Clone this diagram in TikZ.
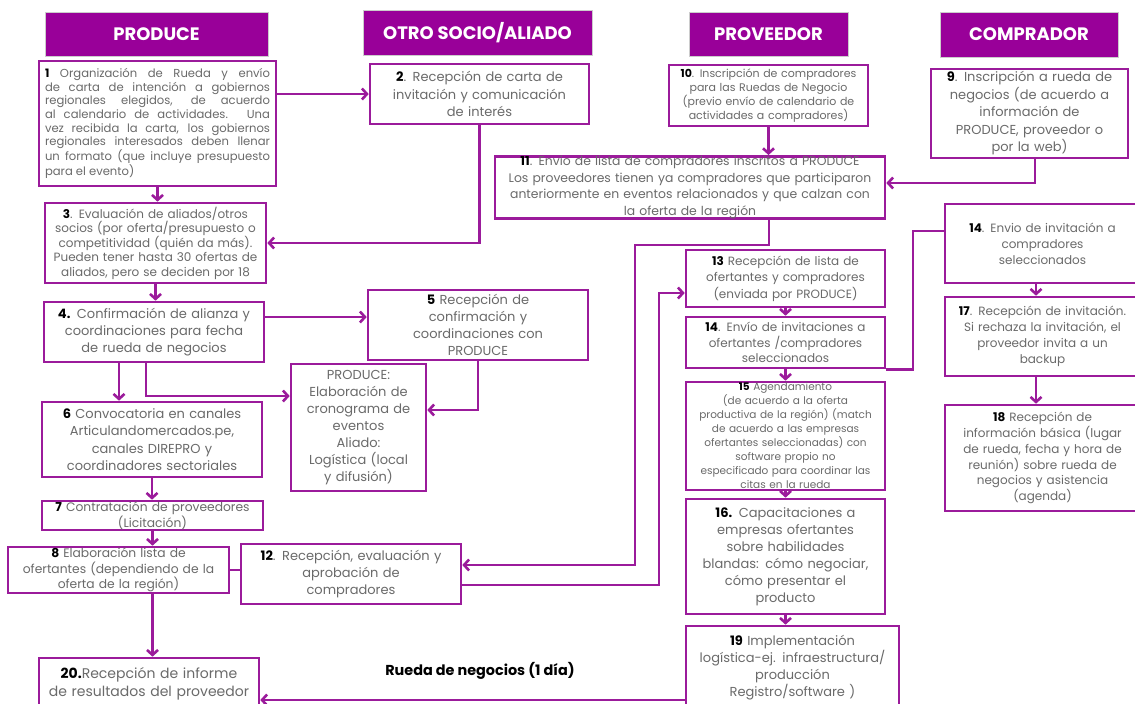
\documentclass[tikz,border=0pt]{standalone}
\usepackage{fontspec}
\setmainfont{Poppins}
\usetikzlibrary{arrows.meta}
\definecolor{lila}{HTML}{9B1B9B}
\definecolor{lilafondo}{HTML}{990099}
\definecolor{texto}{HTML}{6A6A6A}
\newcommand{\nro}[1]{{\color{black}\bfseries #1}}
\newcommand{\tam}[2]{\fontsize{#1}{#2}\selectfont}
\hyphenpenalty=10000
\exhyphenpenalty=10000

\begin{document}
\begin{tikzpicture}[x=1pt, y=-1pt,
   caja/.style={draw=lila, line width=2.6pt, fill=white, inner sep=0pt, align=center, text=texto},
   cabeza/.style={fill=lilafondo, draw=black!20, line width=0.6pt, text=white, inner sep=0pt,
      font=\bfseries\tam{18}{20}},
   flecha/.style={draw=lila, line width=2.6pt, -{Straight Barb[length=5pt,width=11pt]}},
   linea/.style={draw=lila, line width=2.6pt}]
    \useasboundingbox (0,0) rectangle (1135,704);
    \path (156.5,34) node[cabeza, minimum width=223pt, minimum height=44pt] (hprod) {PRODUCE};
    \path (477.5,32.5) node[cabeza, minimum width=229pt, minimum height=45pt] (hotro) {OTRO SOCIO/ALIADO};
    \path (768.5,34) node[cabeza, minimum width=159pt, minimum height=44pt] (hprov) {PROVEEDOR};
    \path (1029,34.5) node[cabeza, minimum width=178pt, minimum height=45pt] (hcomp) {COMPRADOR};
    \path (157.5,123.5) node[caja, minimum width=237pt, minimum height=125pt, inner xsep=6pt,
       text width=225pt, align=justify, font=\tam{11.6}{13.6}] (b1)
       {\nro{1} Organización de Rueda y envío de carta de intención a gobiernos regionales elegidos,
        de acuerdo al calendario de actividades. Una vez recibida la carta, los gobiernos regionales
        interesados deben llenar un formato (que incluye presupuesto para el evento)};
    \path (479.5,94) node[caja, minimum width=219pt, text width=219pt, minimum height=60pt,
       font=\tam{13}{17.5}] (b2)
       {\nro{2}. Recepción de carta de\\invitación y comunicación\\de interés};
    \path (768.5,95.5) node[caja, minimum width=199pt, text width=199pt, minimum height=61pt,
       font=\tam{11}{14}] (b10)
       {\nro{10}. Inscripción de compradores\\para las Ruedas de Negocio\\(previo envío de calendario de\\actividades a compradores)};
    \path (1029.5,113.5) node[caja, minimum width=197pt, text width=197pt, minimum height=89pt,
       font=\tam{13}{17.5}] (b9)
       {\nro{9}. Inscripción a rueda de\\negocios (de acuerdo a\\información de\\PRODUCE, proveedor o\\por la web)};
    \path (690,187.5) node[caja, minimum width=390pt, text width=390pt, minimum height=61pt,
       font=\tam{12.4}{16.5}] (b11)
       {\nro{11}. Envio de lista de compradores inscritos a PRODUCE\\Los proveedores tienen ya compradores que participaron\\anteriormente en eventos relacionados y que calzan con\\la oferta de la región};
    \path (155.5,243) node[caja, minimum width=221pt, text width=221pt, minimum height=80pt,
       font=\tam{12}{14.5}] (b3)
       {\nro{3}. Evaluación de aliados/otros\\socios (por oferta/presupuesto o\\competitividad (quién da más).\\Pueden tener hasta 30 ofertas de\\aliados, pero se deciden por 18};
    \path (1042.5,243.5) node[caja, minimum width=195pt, text width=195pt, minimum height=79pt,
       font=\tam{12}{16}] (b14c)
       {\nro{14}. Envio de invitación a\\compradores\\seleccionados};
    \path (785.5,278.5) node[caja, minimum width=199pt, text width=199pt, minimum height=57pt,
       font=\tam{12}{16.5}] (b13)
       {\nro{13} Recepción de lista de\\ofertantes y compradores\\(enviada por PRODUCE)};
    \path (154,332) node[caja, minimum width=220pt, text width=220pt, minimum height=60pt,
       font=\tam{13}{17}] (b4)
       {\nro{4.} Confirmación de alianza y\\coordinaciones para fecha\\de rueda de negocios};
    \path (478,325) node[caja, minimum width=220pt, text width=220pt, minimum height=70pt,
       font=\tam{13}{17}] (b5)
       {\nro{5} Recepción de\\confirmación y\\coordinaciones con\\PRODUCE};
    \path (785.5,342.5) node[caja, minimum width=199pt, text width=199pt, minimum height=51pt,
       font=\tam{12}{15.5}] (b14b)
       {\nro{14}. Envío de invitaciones a\\ofertantes /compradores\\seleccionados};
    \path (1042.5,336.5) node[caja, minimum width=195pt, text width=195pt, minimum height=79pt,
       font=\tam{12}{16}] (b17)
       {\nro{17}. Recepción de invitación.\\Si rechaza la invitación, el\\proveedor invita a un\\backup};
    \path (358.5,427.5) node[caja, minimum width=135pt, text width=135pt, minimum height=127pt,
       font=\tam{13}{17}] (cron)
       {PRODUCE:\\Elaboración de\\cronograma de\\eventos\\Aliado:\\Logística (local\\y difusión)};
    \path (152,439.5) node[caja, minimum width=220pt, text width=220pt, minimum height=75pt,
       font=\tam{13}{17.5}] (b6)
       {\nro{6} Convocatoria en canales\\Articulandomercados.pe,\\canales DIREPRO y\\coordinadores sectoriales};
    \path (785.5,436) node[caja, minimum width=199pt, text width=199pt, minimum height=108pt,
       font=\tam{10.5}{14}] (b15)
       {\nro{15} Agendamiento\\(de acuerdo a la oferta\\productiva de la región) (match\\de acuerdo a las empresas\\ofertantes seleccionadas) con\\software propio no\\especificado para coordinar las\\citas en la rueda};
    \path (1042.5,458) node[caja, minimum width=195pt, text width=195pt, minimum height=106pt,
       font=\tam{12}{15.8}] (b18)
       {\nro{18} Recepción de\\información básica (lugar\\de rueda, fecha y hora de\\reunión) sobre rueda de\\negocios y asistencia\\(agenda)};
    \path (152.5,515.5) node[caja, minimum width=221pt, text width=221pt, minimum height=29pt,
       font=\tam{12.3}{13.5}] (b7)
       {\nro{7} Contratación de proveedores\\(Licitación)};
    \path (785.5,556.5) node[caja, minimum width=199pt, text width=199pt, minimum height=115pt,
       font=\tam{13}{17}] (b16)
       {\nro{16.} Capacitaciones a\\empresas ofertantes\\sobre habilidades\\blandas: cómo negociar,\\cómo presentar el\\producto};
    \path (118.5,570) node[caja, minimum width=221pt, text width=221pt, minimum height=46pt,
       font=\tam{12.3}{15.3}] (b8)
       {\nro{8} Elaboración lista de\\ofertantes (dependiendo de la\\oferta de la región)};
    \path (351,574) node[caja, minimum width=220pt, text width=220pt, minimum height=60pt,
       font=\tam{13}{17}] (b12)
       {\nro{12}. Recepción, evaluación y\\aprobación de\\compradores};
    \path (792.5,668) node[caja, minimum width=213pt, text width=213pt, minimum height=84pt,
       font=\tam{13}{17}] (b19)
       {\nro{19} Implementación\\logística-ej. infraestructura/\\producción\\Registro/software )};
    \path (149,684) node[caja, minimum width=220pt, text width=220pt, minimum height=52pt,
       font=\tam{14}{18}] (b20)
       {\nro{20.}Recepción de informe\\de resultados del proveedor};
    \path (480,671) node[font=\bfseries\tam{14.4}{16}] (rueda) {Rueda de negocios (1 día)};
    \draw[flecha] (b1.east |- b2.west) -- (b2.west);
    \draw[flecha] (b2.south) |- (b3.east);
    \draw[flecha] (b1.south) -- (b1.south |- b3.north);
    \draw[flecha] (b3.south) -- (b3.south |- b4.north);
    \coordinate (c45) at (264,317);
    \draw[flecha] (c45 -| b4.east) -- (c45 -| b5.west);
    \coordinate (c46) at (119,0);
    \draw[flecha] (c46 |- b4.south) -- (c46 |- b6.north);
    \coordinate (c4cron) at (146,396);
    \draw[flecha] (c4cron |- b4.south) |- (c4cron -| cron.west);
    \coordinate (c5cron) at (0,410);
    \draw[flecha] (b5.south) |- (c5cron -| cron.east);
    \draw[flecha] (b6.south) -- (b6.south |- b7.north);
    \draw[flecha] (b7.south) -- (b7.south |- b8.north);
    \draw[flecha] (b7.south |- b8.south) -- (b7.south |- b20.north);
    \draw[linea] (b8.east) -- (b8.east -| b12.west);
    \coordinate (c11a) at (769,245);
    \coordinate (c11b) at (635,565);
    \draw[flecha] (c11a |- b11.south) -- (c11a) -| (c11b) -- (c11b -| b12.east);
    \coordinate (c12a) at (659,585);
    \coordinate (c12b) at (659,293);
    \draw[flecha] (c12a -| b12.east) -- (c12a) -- (c12b) -- (c12b -| b13.west);
    \draw[flecha] (b10.south) -- (b10.south |- b11.north);
    \coordinate (c9) at (1035,183);
    \draw[flecha] (c9 |- b9.south) -- (c9) -- (c9 -| b11.east);
    \draw[flecha] (b13.south) -- (b14b.north);
    \draw[flecha] (b14b.south) -- (b15.north);
    \coordinate (c14) at (913,231);
    \draw[linea] (b14b.south east) -| (c14) -- (c14 -| b14c.west);
    \coordinate (c17) at (1036,0);
    \draw[flecha] (c17 |- b14c.south) -- (c17 |- b17.north);
    \draw[flecha] (c17 |- b17.south) -- (c17 |- b18.north);
    \draw[flecha] (b15.south) -- (b16.north);
    \draw[flecha] (b16.south) -- (b16.south |- b19.north);
    \coordinate (c20) at (0,700);
    \draw[flecha] (c20 -| b19.west) -- (c20 -| b20.east);
\end{tikzpicture}
\end{document}
